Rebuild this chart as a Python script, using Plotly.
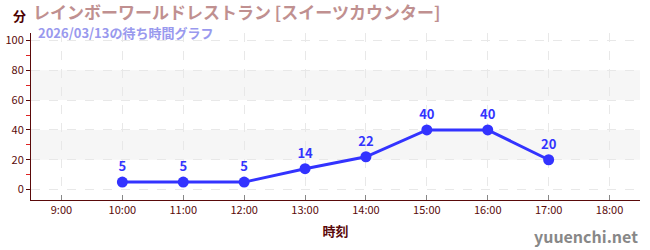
import plotly.graph_objects as go

hours = [10, 11, 12, 13, 14, 15, 16, 17]
waits = [5, 5, 5, 14, 22, 40, 40, 20]
tick_vals = [9, 10, 11, 12, 13, 14, 15, 16, 17, 18]
tick_text = ["9:00", "10:00", "11:00", "12:00", "13:00", "14:00", "15:00", "16:00", "17:00", "18:00"]
y_ticks = [0, 20, 40, 60, 80, 100]
bands = [(20, 40), (60, 80)]

FONT = "Noto Sans CJK JP"
AXC = "#5a0a0a"
BLUE = "#3333ff"

fig = go.Figure()
fig.add_trace(go.Scatter(
    x=hours, y=waits, mode="lines+markers+text",
    line=dict(color=BLUE, width=3),
    marker=dict(color=BLUE, size=11),
    text=[str(v) for v in waits], textposition="top center",
    textfont=dict(color=BLUE, size=13, family=FONT, weight="bold"),
    cliponaxis=False, hoverinfo="skip",
))
for lo, hi in bands:
    fig.add_hrect(y0=lo, y1=hi, fillcolor="#f6f6f6", line_width=0, layer="below")

fig.update_layout(
    width=650, height=250,
    margin=dict(l=31, r=10, t=33, b=50),
    plot_bgcolor="white", paper_bgcolor="white",
    showlegend=False,
    font=dict(family=FONT, color=AXC),
)
fig.update_xaxes(
    range=[8.5, 18.5], tickvals=tick_vals, ticktext=tick_text,
    showline=True, linecolor=AXC, linewidth=1,
    showgrid=True, gridcolor="#e8e8e8", griddash="dash", gridwidth=1,
    ticks="inside", ticklen=5, tickcolor="#888888",
    tickfont=dict(size=11, color=AXC, family=FONT),
    zeroline=False, automargin=False,
    title=dict(text="<b>時刻</b>", font=dict(size=13, color=AXC, family=FONT), standoff=10),
)
fig.update_yaxes(
    range=[-7, 105], tickvals=y_ticks,
    showline=True, linecolor=AXC, linewidth=1,
    showgrid=True, gridcolor="#e8e8e8", griddash="dash", gridwidth=1,
    ticks="outside", ticklen=4, tickcolor=AXC,
    minor=dict(tickvals=[10, 30, 50, 70, 90], ticks="outside", ticklen=4, tickcolor="#dd2222", showgrid=False),
    tickfont=dict(size=11, color=AXC, family=FONT),
    zeroline=False, automargin=False,
)
fig.add_annotation(xref="paper", yref="paper", x=-0.005, y=1.0, yshift=18, xanchor="right", yanchor="middle",
                   text="<b>分</b>", showarrow=False, font=dict(size=13, color="#4d0000", family=FONT))
fig.add_annotation(xref="paper", yref="paper", x=0.0, y=1.0, yshift=22, xanchor="left", yanchor="middle",
                   text="<b>レインボーワールドレストラン [スイーツカウンター]</b>", showarrow=False,
                   font=dict(size=17, color="#c09090", family=FONT))
fig.add_annotation(xref="paper", yref="paper", x=0.008, y=1.0, yshift=1, xanchor="left", yanchor="middle",
                   text="<b>2026/03/13の待ち時間グラフ</b>", showarrow=False,
                   font=dict(size=13, color="#9999ee", family=FONT))
fig.add_annotation(xref="paper", yref="paper", x=1.0, y=0, yshift=-36, xanchor="right", yanchor="middle",
                   text="<b>yuuenchi.net</b>", showarrow=False,
                   font=dict(size=16, color="#888888", family=FONT))

fig.write_html("out.html")
